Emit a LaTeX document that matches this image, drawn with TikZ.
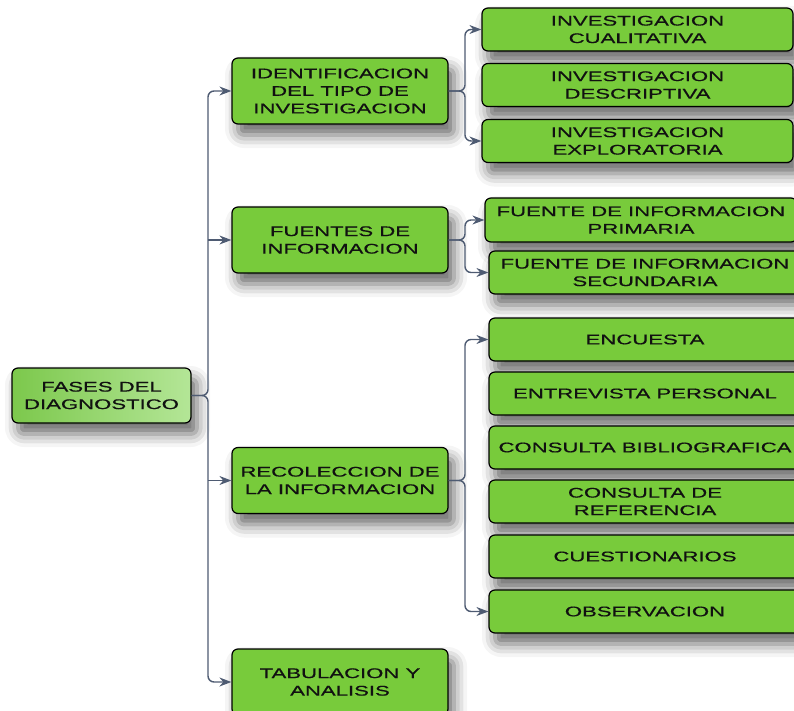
\documentclass[tikz,border=0pt]{standalone}
\usepackage{fontspec}
\setmainfont{Liberation Sans}[FakeStretch=1.58,FakeBold=0.6]
\usetikzlibrary{arrows.meta,shadows.blur}

\definecolor{boxgreen}{HTML}{78CB3B}
\definecolor{rootleft}{HTML}{7CC84C}
\definecolor{rootright}{HTML}{B4E697}
\definecolor{linkgray}{HTML}{4E5B72}
\definecolor{inkdark}{HTML}{111111}

\tikzset{
  card/.style={draw=black, line width=1.2pt, rounded corners=6pt, fill=boxgreen,
    text=inkdark, align=center, inner sep=0pt,
    font=\fontsize{14}{17.5}\selectfont,
    blur shadow={shadow xshift=6pt, shadow yshift=-11pt, shadow blur radius=13pt, shadow opacity=60}},
  rootcard/.style={card, left color=rootleft, right color=rootright,
    minimum width=179pt, minimum height=55pt},
  phase/.style={card, minimum width=216pt, minimum height=66pt},
  leaf/.style={card, minimum width=312pt, minimum height=43pt},
  link/.style={draw=linkgray, line width=1.4pt, rounded corners=6pt,
    -{Stealth[length=12pt,width=9pt]}}
}

\begin{document}
\begin{tikzpicture}[x=1pt,y=-1pt]
\useasboundingbox (0,0) rectangle (794,711);
\clip (0,0) rectangle (794,711);

% root
\node[rootcard] (root) at (101.5,395.5) {FASES DEL\\DIAGNOSTICO};

% phases
\node[phase] (ident) at (340,91) {IDENTIFICACION\\DEL TIPO DE\\INVESTIGACION};
\node[phase] (fuen) at (340,240) {FUENTES DE\\INFORMACION};
\node[phase] (reco) at (340,480.5) {RECOLECCION DE\\LA INFORMACION};
\node[phase] (tabu) at (340,682) {TABULACION Y\\ANALISIS};

% types of research
\node[leaf, minimum width=311pt] (cual) at (637.5,29.5) {INVESTIGACION\\CUALITATIVA};
\node[leaf, minimum width=311pt] (desc) at (637.5,85) {INVESTIGACION\\DESCRIPTIVA};
\node[leaf, minimum width=311pt] (expl) at (637.5,141) {INVESTIGACION\\EXPLORATORIA};

% sources
\node[leaf, minimum height=44pt] (prim) at (641,220) {FUENTE DE INFORMACION\\PRIMARIA};
\node[leaf] (secu) at (645,272.5) {FUENTE DE INFORMACION\\SECUNDARIA};

% collection methods
\node[leaf] (encu) at (645,339.5) {ENCUESTA};
\node[leaf] (entr) at (645,393.5) {ENTREVISTA PERSONAL};
\node[leaf] (bibl) at (645,447.5) {CONSULTA BIBLIOGRAFICA};
\node[leaf] (refe) at (645,501.5) {CONSULTA DE\\REFERENCIA};
\node[leaf] (cues) at (645,556.5) {CUESTIONARIOS};
\node[leaf] (obse) at (645,611.5) {OBSERVACION};

% trunk from the root to the phases
\draw[link] (root.east) -- (208,395.5) |- (ident.west);
\draw[link] (root.east) -- (208,395.5) |- (tabu.west);
\draw[link] (208,240) -- (fuen.west);
\draw[link] (208,480.5) -- (reco.west);

% branches to the sub-items
\draw[link] (ident.east) -- (465,91) |- (cual.west);
\draw[link] (ident.east) -- (465,91) |- (expl.west);
\draw[link] (fuen.east) -- (465,240) |- (prim.west);
\draw[link] (fuen.east) -- (465,240) |- (secu.west);
\draw[link] (reco.east) -- (465,480.5) |- (encu.west);
\draw[link] (reco.east) -- (465,480.5) |- (obse.west);
\end{tikzpicture}
\end{document}
